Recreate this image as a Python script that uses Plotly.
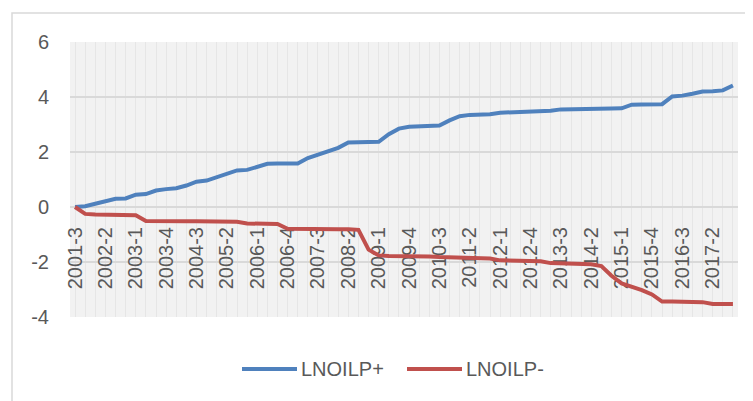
import plotly.graph_objects as go

categories = [
    "2001-3", "2001-4",
    "2002-1", "2002-2", "2002-3", "2002-4",
    "2003-1", "2003-2", "2003-3", "2003-4",
    "2004-1", "2004-2", "2004-3", "2004-4",
    "2005-1", "2005-2", "2005-3", "2005-4",
    "2006-1", "2006-2", "2006-3", "2006-4",
    "2007-1", "2007-2", "2007-3", "2007-4",
    "2008-1", "2008-2", "2008-3", "2008-4",
    "2009-1", "2009-2", "2009-3", "2009-4",
    "2010-1", "2010-2", "2010-3", "2010-4",
    "2011-1", "2011-2", "2011-3", "2011-4",
    "2012-1", "2012-2", "2012-3", "2012-4",
    "2013-1", "2013-2", "2013-3", "2013-4",
    "2014-1", "2014-2", "2014-3", "2014-4",
    "2015-1", "2015-2", "2015-3", "2015-4",
    "2016-1", "2016-2", "2016-3", "2016-4",
    "2017-1", "2017-2", "2017-3", "2017-4",
]

shown_labels = [
    "2001-3", "2002-2", "2003-1", "2003-4", "2004-3", "2005-2", "2006-1",
    "2006-4", "2007-3", "2008-2", "2009-1", "2009-4", "2010-3", "2011-2",
    "2012-1", "2012-4", "2013-3", "2014-2", "2015-1", "2015-4", "2016-3",
    "2017-2",
]

lnoilp_plus = [
    0.00, 0.03, 0.12, 0.22, 0.30, 0.31, 0.45, 0.47, 0.60, 0.65,
    0.68, 0.78, 0.92, 0.96, 1.08, 1.20, 1.33, 1.35, 1.46, 1.57,
    1.58, 1.58, 1.58, 1.78, 1.90, 2.05, 2.15, 2.35, 2.36, 2.36,
    2.37, 2.65, 2.85, 2.92, 2.93, 2.95, 2.96, 3.15, 3.30, 3.35,
    3.36, 3.37, 3.43, 3.44, 3.45, 3.46, 3.48, 3.50, 3.55, 3.55,
    3.56, 3.57, 3.58, 3.58, 3.59, 3.72, 3.73, 3.73, 3.74, 4.02,
    4.05, 4.12, 4.20, 4.21, 4.24, 4.42,
]

lnoilp_minus = [
    0.00, -0.25, -0.27, -0.27, -0.28, -0.29, -0.30, -0.51, -0.52, -0.52,
    -0.52, -0.52, -0.52, -0.52, -0.52, -0.53, -0.54, -0.60, -0.61, -0.61,
    -0.62, -0.79, -0.80, -0.80, -0.80, -0.80, -0.81, -0.81, -0.83, -1.55,
    -1.76, -1.78, -1.78, -1.79, -1.80, -1.80, -1.82, -1.83, -1.83, -1.84,
    -1.85, -1.87, -1.94, -1.95, -1.95, -1.96, -1.97, -2.04, -2.05, -2.06,
    -2.07, -2.08, -2.15, -2.50, -2.78, -2.90, -3.02, -3.18, -3.44, -3.44,
    -3.44, -3.45, -3.46, -3.53, -3.53, -3.53,
]

y_ticks = [-4, -2, 0, 2, 4, 6]
y_tick_labels = ["-4", "-2", "0", "2", "4", "6"]

series_names = ["LNOILP+", "LNOILP-"]
series_colors = ["#4F81BD", "#C0504D"]

FONT = "Liberation Sans"
TEXT = "#595959"
FS = 20

# the page body has an 8px margin; figure coords = screen coords - 8
OFF = 8
PL, PR, PT, PB = 70 - OFF, 738 - OFF, 42 - OFF, 317 - OFF

fig = go.Figure()
for name, vals, col in zip(series_names, [lnoilp_plus, lnoilp_minus], series_colors):
    fig.add_trace(go.Scatter(x=categories, y=vals, mode="lines", name=name,
                             line=dict(color=col, width=4), showlegend=False))

ticktext = [c if c in shown_labels else "" for c in categories]

def px_x(p):
    return (p - 70) / 668.0

def px_y(p):
    return (317 - p) / 275.0

shapes = [dict(type="rect", xref="paper", yref="paper",
               x0=px_x(12), x1=px_x(790), y0=px_y(460), y1=px_y(13),
               line=dict(color="#d9d9d9", width=1.5), fillcolor="rgba(0,0,0,0)",
               layer="below")]
annotations = []
legend_starts = [242, 407]
for start, name, col in zip(legend_starts, series_names, series_colors):
    shapes.append(dict(type="line", xref="paper", yref="paper",
                       x0=px_x(start), x1=px_x(start + 55), y0=px_y(369), y1=px_y(369),
                       line=dict(color=col, width=4)))
    annotations.append(dict(xref="paper", yref="paper", x=px_x(start + 57), y=px_y(369),
                            text=name, showarrow=False, xanchor="left", yanchor="middle",
                            font=dict(family=FONT, size=FS, color=TEXT)))

fig.update_layout(
    width=753, height=401,
    margin=dict(l=PL, r=753 - PR, t=PT, b=401 - PB, autoexpand=False),
    paper_bgcolor="white",
    plot_bgcolor="#f2f2f2",
    font=dict(family=FONT, size=FS, color=TEXT),
    showlegend=False,
    xaxis=dict(
        type="category", range=[-0.5, len(categories) - 0.5],
        tickmode="array", tickvals=categories, ticktext=ticktext,
        tickangle=-90, showgrid=True, gridcolor="#e6e6e6", gridwidth=1,
        showline=False, zeroline=False, ticks="",
        anchor="free", position=0.4, layer="below traces",
        ticklabelstandoff=15, automargin=False,
        tickfont=dict(family=FONT, size=FS, color=TEXT),
    ),
    yaxis=dict(
        range=[-4, 6], tickmode="array", tickvals=y_ticks, ticktext=y_tick_labels,
        showgrid=True, gridcolor="#d9d9d9", gridwidth=2,
        zeroline=True, zerolinecolor="#d9d9d9", zerolinewidth=2,
        showline=False, ticks="", ticklabelstandoff=20, automargin=False,
        tickfont=dict(family=FONT, size=FS, color=TEXT),
    ),
    shapes=shapes,
    annotations=annotations,
)

fig.write_html("out.html")
